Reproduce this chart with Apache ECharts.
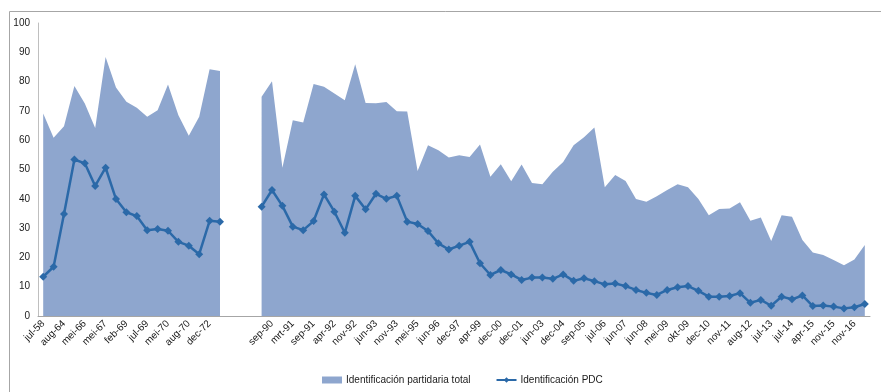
<!DOCTYPE html>
<html>
<head>
<meta charset="utf-8">
<script src="https://cdn.jsdelivr.net/npm/echarts@6/dist/echarts.min.js"></script>
<style>
html,body{margin:0;padding:0;background:#fff;}
#chart{width:881px;height:392px;}
</style>
</head>
<body>
<div id="chart"></div>
<script>
// Categories (only every other label is visible in the reference; hidden ones left blank)
var categories = [
  'jul-58','', 'aug-64','', 'mei-66','', 'mei-67','', 'feb-69','',
  'jul-69','', 'mei-70','', 'aug-70','', 'dec-72','', '','',
  '','', 'sep-90','', 'mrt-91','', 'sep-91','', 'apr-92','',
  'nov-92','', 'jun-93','', 'nov-93','', 'mei-95','', 'jun-96','',
  'dec-97','', 'apr-99','', 'dec-00','', 'dec-01','', 'jun-03','',
  'dec-04','', 'sep-05','', 'jul-06','', 'jun-07','', 'jun-08','',
  'mei-09','', 'okt-09','', 'dec-10','', 'nov-11','', 'aug-12','',
  'jul-13','', 'jul-14','', 'apr-15','', 'nov-15','', 'nov-16',''
];

var totalIdent = [
  69.1, 60.8, 64.8, 78.5, 72.5, 64.2, 88.4, 78.0, 73.1, 71.1,
  68.0, 70.2, 79.0, 68.5, 61.5, 68.0, 84.2, 83.6, null, null,
  null, 74.8, 80.1, 50.6, 66.8, 66.0, 79.2, 78.2, 75.9, 73.6,
  85.9, 72.7, 72.6, 73.0, 69.9, 69.8, 49.5, 58.3, 56.6, 54.1,
  54.9, 54.3, 58.5, 47.5, 51.8, 46.0, 51.7, 45.4, 45.0, 49.2,
  52.6, 58.3, 61.0, 64.3, 43.9, 48.1, 46.1, 39.9, 39.0, 40.9,
  43.0, 45.0, 43.9, 39.9, 34.4, 36.5, 36.7, 38.8, 32.5, 33.6,
  25.6, 34.4, 33.9, 25.9, 21.7, 20.8, 19.1, 17.3, 19.3, 24.2
];

var pdcIdent = [
  13.4, 16.8, 34.8, 53.4, 52.1, 44.4, 50.6, 39.9, 35.4, 34.1,
  29.3, 29.7, 29.1, 25.3, 24.0, 21.1, 32.5, 32.2, null, null,
  null, 37.3, 43.0, 37.6, 30.5, 29.3, 32.4, 41.5, 35.6, 28.4,
  41.0, 36.4, 41.7, 40.0, 41.0, 32.2, 31.4, 29.0, 24.8, 22.7,
  24.0, 25.3, 18.0, 14.0, 15.7, 14.2, 12.3, 13.1, 13.1, 12.7,
  14.2, 12.0, 12.9, 11.9, 10.8, 11.1, 10.2, 8.9, 7.9, 7.2,
  8.9, 9.8, 10.2, 8.6, 6.6, 6.6, 6.8, 7.8, 4.5, 5.5,
  3.5, 6.6, 5.7, 7.0, 3.4, 3.6, 3.2, 2.6, 3.0, 4.1
];

var seriesNames = ['Identificación partidaria total', 'Identificación PDC'];
var yTicks = { min: 0, max: 100, interval: 10 };

var FONT = 'Liberation Sans';
var TXT = '#1a1a1a';
var AREA = '#8EA6CE';
var LINE = '#2B69A8';

var chart = echarts.init(document.getElementById('chart'), null, {renderer: 'canvas'});
chart.setOption({
  animation: false,
  backgroundColor: '#fff',
  textStyle: { fontFamily: FONT, color: TXT },
  graphic: [{
    type: 'rect', left: 7, top: 9, silent: true,
    shape: { x: 0, y: 0, width: 900, height: 400 },
    style: { fill: 'none', stroke: '#A6A6A6', lineWidth: 1 }
  }],
  grid: { left: 38, right: 11, top: 23, bottom: 76, containLabel: false },
  legend: {
    left: 317, top: 370,
    itemWidth: 20, itemHeight: 7, itemGap: 25,
    textStyle: { fontFamily: FONT, fontSize: 10, color: TXT, padding: [0,0,0,-1] },
    data: [
      { name: seriesNames[0], icon: 'rect', itemStyle: { color: AREA } },
      { name: seriesNames[1] }
    ]
  },
  xAxis: {
    type: 'category',
    data: categories,
    boundaryGap: true,
    axisLine: { show: true, lineStyle: { color: '#A6A6A6', width: 1 } },
    axisTick: { show: false },
    axisLabel: {
      interval: 1, rotate: 45, margin: 6,
      fontFamily: FONT, fontSize: 10, color: TXT
    },
    splitLine: { show: false }
  },
  yAxis: {
    type: 'value',
    min: yTicks.min, max: yTicks.max, interval: yTicks.interval,
    axisLine: { show: true, lineStyle: { color: '#BFBFBF', width: 1 } },
    axisTick: { show: false },
    axisLabel: { margin: 8, fontFamily: FONT, fontSize: 10, color: TXT },
    splitLine: { show: false }
  },
  series: [
    {
      name: seriesNames[0],
      type: 'line',
      data: totalIdent,
      showSymbol: false,
      symbol: 'none',
      connectNulls: false,
      lineStyle: { width: 0, color: AREA },
      itemStyle: { color: AREA },
      areaStyle: { color: AREA, opacity: 1 },
      z: 1
    },
    {
      name: seriesNames[1],
      type: 'line',
      data: pdcIdent,
      symbol: 'diamond',
      symbolSize: 8,
      showSymbol: true,
      showAllSymbol: true,
      connectNulls: false,
      lineStyle: { width: 2.5, color: LINE },
      itemStyle: { color: LINE },
      z: 3
    }
  ]
});
</script>
</body>
</html>
